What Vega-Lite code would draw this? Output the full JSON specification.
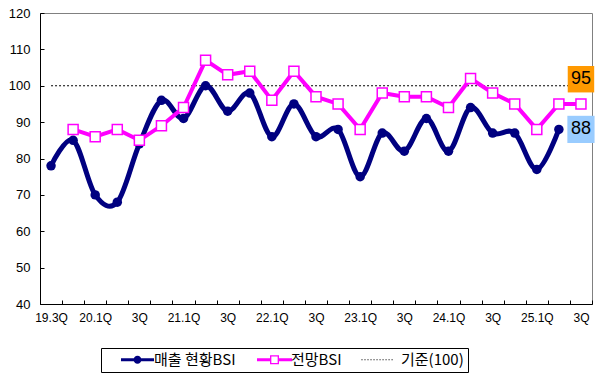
{
  "$schema": "https://vega.github.io/schema/vega-lite/v6.json",
  "width": 552,
  "height": 291,
  "autosize": {"type": "none"},
  "padding": {"left": 40, "top": 13, "right": 8, "bottom": 70},
  "background": "white",
  "config": {"view": {"stroke": "#808080", "strokeWidth": 1}, "font": "Liberation Sans"},
  "data": {"values": [
      {"q": "19.3Q", "s": "매출 현황BSI", "v": 78},
      {"q": "19.4Q", "s": "매출 현황BSI", "v": 85},
      {"q": "20.1Q", "s": "매출 현황BSI", "v": 70},
      {"q": "20.2Q", "s": "매출 현황BSI", "v": 68},
      {"q": "20.3Q", "s": "매출 현황BSI", "v": 84},
      {"q": "20.4Q", "s": "매출 현황BSI", "v": 96},
      {"q": "21.1Q", "s": "매출 현황BSI", "v": 91},
      {"q": "21.2Q", "s": "매출 현황BSI", "v": 100},
      {"q": "21.3Q", "s": "매출 현황BSI", "v": 93},
      {"q": "21.4Q", "s": "매출 현황BSI", "v": 98},
      {"q": "22.1Q", "s": "매출 현황BSI", "v": 86},
      {"q": "22.2Q", "s": "매출 현황BSI", "v": 95},
      {"q": "22.3Q", "s": "매출 현황BSI", "v": 86},
      {"q": "22.4Q", "s": "매출 현황BSI", "v": 88},
      {"q": "23.1Q", "s": "매출 현황BSI", "v": 75},
      {"q": "23.2Q", "s": "매출 현황BSI", "v": 87},
      {"q": "23.3Q", "s": "매출 현황BSI", "v": 82},
      {"q": "23.4Q", "s": "매출 현황BSI", "v": 91},
      {"q": "24.1Q", "s": "매출 현황BSI", "v": 82},
      {"q": "24.2Q", "s": "매출 현황BSI", "v": 94},
      {"q": "24.3Q", "s": "매출 현황BSI", "v": 87},
      {"q": "24.4Q", "s": "매출 현황BSI", "v": 87},
      {"q": "25.1Q", "s": "매출 현황BSI", "v": 77},
      {"q": "25.2Q", "s": "매출 현황BSI", "v": 88},
      {"q": "19.4Q", "s": "전망BSI", "v": 88},
      {"q": "20.1Q", "s": "전망BSI", "v": 86},
      {"q": "20.2Q", "s": "전망BSI", "v": 88},
      {"q": "20.3Q", "s": "전망BSI", "v": 85},
      {"q": "20.4Q", "s": "전망BSI", "v": 89},
      {"q": "21.1Q", "s": "전망BSI", "v": 94},
      {"q": "21.2Q", "s": "전망BSI", "v": 107},
      {"q": "21.3Q", "s": "전망BSI", "v": 103},
      {"q": "21.4Q", "s": "전망BSI", "v": 104},
      {"q": "22.1Q", "s": "전망BSI", "v": 96},
      {"q": "22.2Q", "s": "전망BSI", "v": 104},
      {"q": "22.3Q", "s": "전망BSI", "v": 97},
      {"q": "22.4Q", "s": "전망BSI", "v": 95},
      {"q": "23.1Q", "s": "전망BSI", "v": 88},
      {"q": "23.2Q", "s": "전망BSI", "v": 98},
      {"q": "23.3Q", "s": "전망BSI", "v": 97},
      {"q": "23.4Q", "s": "전망BSI", "v": 97},
      {"q": "24.1Q", "s": "전망BSI", "v": 94},
      {"q": "24.2Q", "s": "전망BSI", "v": 102},
      {"q": "24.3Q", "s": "전망BSI", "v": 98},
      {"q": "24.4Q", "s": "전망BSI", "v": 95},
      {"q": "25.1Q", "s": "전망BSI", "v": 88},
      {"q": "25.2Q", "s": "전망BSI", "v": 95},
      {"q": "25.3Q", "s": "전망BSI", "v": 95},
      {"q": "19.3Q", "s": "기준(100)", "v": 100},
      {"q": "25.3Q", "s": "기준(100)", "v": 100},
      {"q": "25.3Q", "s": "tag95", "v": 101.8, "t": "95"},
      {"q": "25.3Q", "s": "tag88", "v": 88, "t": "88"}
  ]},
  "encoding": {
    "x": {
      "field": "q",
      "type": "ordinal",
      "sort": ["19.3Q","19.4Q","20.1Q","20.2Q","20.3Q","20.4Q","21.1Q","21.2Q","21.3Q","21.4Q","22.1Q","22.2Q","22.3Q","22.4Q","23.1Q","23.2Q","23.3Q","23.4Q","24.1Q","24.2Q","24.3Q","24.4Q","25.1Q","25.2Q","25.3Q"],
      "scale": {"type": "band", "paddingInner": 0, "paddingOuter": 0},
      "axis": {
        "title": null,
        "grid": false,
        "domainColor": "black",
        "tickBand": "extent",
        "tickSize": -4,
        "tickColor": "black",
        "labelAngle": 0,
        "labelPadding": 12,
        "labelOverlap": false,
        "labelFont": "Liberation Sans",
        "labelFontSize": 12,
        "labelColor": "black",
        "labelExpr": "('' + datum.label) == '19.3Q' || indexof('' + datum.label, '.1Q') > 0 ? datum.label : (indexof('' + datum.label, '.3Q') > 0 ? '3Q' : '')"
      }
    },
    "y": {
      "field": "v",
      "type": "quantitative",
      "scale": {"domain": [40, 120], "nice": false, "zero": false},
      "axis": {
        "title": null,
        "grid": false,
        "values": [40, 50, 60, 70, 80, 90, 100, 110, 120],
        "domainColor": "black",
        "tickSize": -4,
        "tickColor": "black",
        "labelPadding": 14,
        "labelFont": "Liberation Sans",
        "labelFontSize": 13,
        "labelColor": "black"
      }
    }
  },
  "layer": [
    {
      "transform": [{"filter": "datum.s == '기준(100)'"}],
      "mark": {"type": "line", "strokeWidth": 1, "strokeDash": [2, 2]},
      "encoding": {
        "color": {
          "field": "s",
          "type": "nominal",
          "scale": {"domain": ["매출 현황BSI", "전망BSI", "기준(100)"], "range": ["#000080", "#FF00FF", "#000000"]},
          "legend": {
            "orient": "none",
            "legendX": 61,
            "legendY": 335,
            "direction": "horizontal",
            "title": null,
            "strokeColor": "black",
            "fillColor": "white",
            "padding": 4,
            "symbolSize": 196,
            "symbolOffset": 25,
            "labelOffset": 9,
            "columnPadding": 6,
            "labelFont": "Noto Sans CJK KR",
            "labelFontSize": 15,
            "labelColor": "black",
            "encode": {
              "labels": {
                "update": {
                  "dx": {"signal": "datum.value === '기준(100)' ? 4 : 0"}
                }
              },
              "symbols": {
                "update": {
                  "shape": {"signal": "datum.value === '매출 현황BSI' ? 'M-2.36,-0.21H2.36V0.21H-2.36Z M0.57,0A0.57,0.57,0,1,1,-0.57,0A0.57,0.57,0,1,1,0.57,0Z' : datum.value === '전망BSI' ? 'M-2.5,-0.21H-0.64V0.21H-2.5Z M0.64,-0.21H2.5V0.21H0.64Z M-0.64,-0.64H0.64V0.64H-0.64Z M-0.45,-0.45V0.45H0.45V-0.45Z' : 'M-2.72,-0.08h0.15v0.16h-0.15Z M-2.29,-0.08h0.15v0.16h-0.15Z M-1.86,-0.08h0.15v0.16h-0.15Z M-1.43,-0.08h0.15v0.16h-0.15Z M-1.0,-0.08h0.15v0.16h-0.15Z M-0.57,-0.08h0.15v0.16h-0.15Z M-0.14,-0.08h0.15v0.16h-0.15Z M0.29,-0.08h0.15v0.16h-0.15Z M0.72,-0.08h0.15v0.16h-0.15Z M1.15,-0.08h0.15v0.16h-0.15Z M1.58,-0.08h0.15v0.16h-0.15Z'"},
                  "fill": {"signal": "datum.value === '매출 현황BSI' ? '#000080' : datum.value === '전망BSI' ? '#FF00FF' : '#000000'"},
                  "stroke": {"value": "transparent"},
                  "strokeWidth": {"value": 0},
                  "opacity": {"value": 1}
                }
              }
            }
          }
        }
      }
    },
    {
      "transform": [{"filter": "datum.s == '매출 현황BSI'"}],
      "mark": {"type": "line", "strokeWidth": 5, "interpolate": "cardinal"},
      "encoding": {"color": {"field": "s", "type": "nominal"}}
    },
    {
      "transform": [{"filter": "datum.s == '매출 현황BSI'"}],
      "mark": {"type": "point", "shape": "circle", "filled": true, "size": 90, "color": "#000080", "opacity": 1},
      "encoding": {}
    },
    {
      "transform": [{"filter": "datum.s == '전망BSI'"}],
      "mark": {"type": "line", "strokeWidth": 4},
      "encoding": {"color": {"field": "s", "type": "nominal"}}
    },
    {
      "transform": [{"filter": "datum.s == '전망BSI'"}],
      "mark": {"type": "point", "shape": "square", "filled": true, "fill": "white", "stroke": "#FF00FF", "strokeWidth": 1.5, "size": 100, "opacity": 1},
      "encoding": {}
    },
    {
      "transform": [{"filter": "datum.s == 'tag95'"}],
      "mark": {"type": "point", "shape": "square", "filled": true, "color": "#FF9900", "size": 700, "opacity": 1},
      "encoding": {}
    },
    {
      "transform": [{"filter": "datum.s == 'tag88'"}],
      "mark": {"type": "point", "shape": "square", "filled": true, "color": "#99CCFF", "size": 740, "opacity": 1},
      "encoding": {}
    },
    {
      "transform": [{"filter": "isValid(datum.t)"}],
      "mark": {"type": "text", "font": "Liberation Sans", "fontSize": 18, "color": "black", "align": "center", "baseline": "middle"},
      "encoding": {"text": {"field": "t", "type": "nominal"}}
    }
  ]
}
